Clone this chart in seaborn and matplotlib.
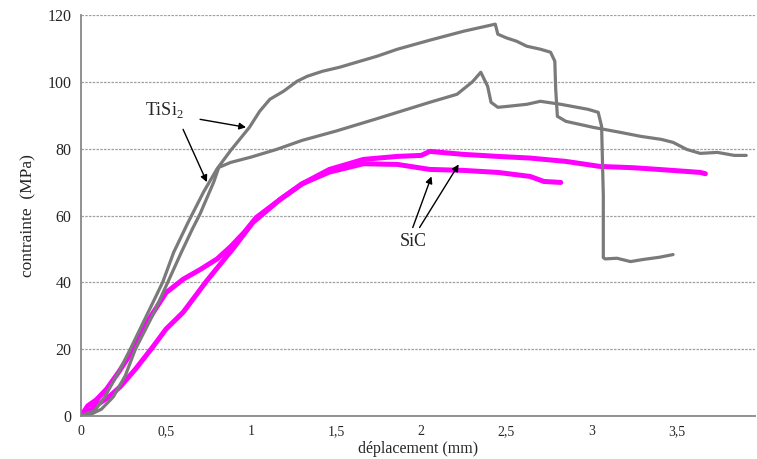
import pandas as pd
import matplotlib.pyplot as plt
import seaborn as sns
from matplotlib.ticker import FuncFormatter

sns.set_style("white")
plt.rcParams["font.family"] = ["Liberation Serif", "DejaVu Serif"]
plt.rcParams["mathtext.fontset"] = "custom"
plt.rcParams["mathtext.rm"] = "Liberation Serif"

# TiSi2 test 1 (upper curve, peak ~117 MPa)
tisi2_a_x = [0, 0.04, 0.08, 0.14, 0.22, 0.29, 0.39, 0.48, 0.545, 0.63, 0.72, 0.80, 0.88,
             0.99, 1.05, 1.11, 1.19, 1.27, 1.33, 1.42, 1.52, 1.74, 1.86, 2.05, 2.25,
             2.435, 2.45, 2.5, 2.56, 2.62, 2.7, 2.76, 2.785, 2.79, 2.80, 2.85, 3.01,
             3.17, 3.29, 3.41, 3.48, 3.56, 3.64, 3.74, 3.84, 3.91]
tisi2_a_y = [0, 0.8, 1.5, 5.7, 13, 20, 30.5, 40, 49, 58, 67, 74, 79.5,
             86.4, 91.2, 94.8, 97.2, 100.2, 101.7, 103.2, 104.4, 107.7, 109.8, 112.5, 115.2,
             117.3, 114.3, 113.2, 112.2, 110.7, 109.8, 108.9, 106.2, 98, 89.7, 88.2, 86.4,
             84.9, 83.7, 82.8, 81.9, 79.8, 78.6, 78.9, 78.0, 78.0]

# TiSi2 test 2 (lower curve, peak ~103 MPa, final drop to ~47 MPa)
tisi2_b_x = [0, 0.06, 0.12, 0.19, 0.26, 0.32, 0.42, 0.51, 0.59, 0.655, 0.70, 0.78, 0.81,
             0.88, 1.0, 1.15, 1.3, 1.5, 1.74, 2.05, 2.21, 2.30, 2.35, 2.39, 2.41,
             2.45, 2.51, 2.62, 2.70, 2.82, 2.98, 3.04, 3.06, 3.07, 3.07, 3.08, 3.15,
             3.23, 3.30, 3.40, 3.48]
tisi2_b_y = [0, 0.5, 2, 5.7, 12, 20, 30, 40, 49, 56, 60.5, 70, 74.4,
             75.9, 77.5, 79.8, 82.5, 85.3, 89, 93.9, 96.3, 100, 102.9, 98.7, 93.9,
             92.4, 92.7, 93.3, 94.2, 93.3, 91.8, 90.9, 86.7, 66, 47.4, 47, 47.2,
             46.2, 46.8, 47.5, 48.3]

# SiC test 1 (longer curve, ends ~3.67 mm)
sic_a_x = [0, 0.04, 0.09, 0.15, 0.22, 0.31, 0.4, 0.5, 0.6, 0.7, 0.8, 0.88, 0.96, 1.03,
           1.17, 1.3, 1.46, 1.66, 1.86, 2.0, 2.05, 2.25, 2.45, 2.64, 2.85, 3.05, 3.25,
           3.45, 3.64, 3.67]
sic_a_y = [0, 3, 4.8, 8, 13, 20, 29, 36.9, 40.9, 43.8, 47, 50.7, 55, 59.4,
           64.8, 69.5, 73.8, 76.8, 77.7, 78, 79.2, 78.3, 77.7, 77.2, 76.2, 74.7, 74.3,
           73.6, 72.9, 72.5]

# SiC test 2 (shorter curve, ends ~2.82 mm)
sic_b_x = [0, 0.05, 0.1, 0.16, 0.23, 0.32, 0.42, 0.5, 0.6, 0.74, 0.9, 1.01, 1.17, 1.3,
           1.46, 1.66, 1.86, 2.05, 2.25, 2.45, 2.64, 2.72, 2.82]
sic_b_y = [0, 1.5, 3.5, 5.5, 8.7, 14, 20.5, 26, 31, 40.5, 50.5, 57.9, 64.8, 69.5,
           73, 75.5, 75.3, 73.8, 73.5, 72.9, 71.7, 70.2, 69.9]

GRAY = "#7a7a7a"
MAGENTA = "#ff00ff"

fig, ax = plt.subplots(figsize=(7.57, 4.59), dpi=100)
fig.subplots_adjust(left=0.107, right=0.997, bottom=0.094, top=0.967)

for xs, ys in [(sic_a_x, sic_a_y), (sic_b_x, sic_b_y)]:
    sns.lineplot(x=xs, y=ys, sort=False, estimator=None, color=MAGENTA, lw=3.6, ax=ax)
for xs, ys in [(tisi2_a_x, tisi2_a_y), (tisi2_b_x, tisi2_b_y)]:
    sns.lineplot(x=xs, y=ys, sort=False, estimator=None, color=GRAY, lw=2.3, ax=ax)

ax.set_xlim(0, 3.96)
ax.set_ylim(0, 120)
ax.set_xticks([0, 0.5, 1, 1.5, 2, 2.5, 3, 3.5])
ax.set_yticks(range(0, 121, 20))
ax.xaxis.set_major_formatter(FuncFormatter(lambda v, p: f"{v:g}".replace(".", ",")))
ax.grid(axis="y", linestyle=(0, (2, 1)), color="#a0a0a0", lw=0.9)
ax.set_axisbelow(True)

for side in ["top", "right"]:
    ax.spines[side].set_visible(False)
for side in ["left", "bottom"]:
    ax.spines[side].set_color("#888888")
    ax.spines[side].set_linewidth(1.3)

ax.tick_params(axis="x", direction="inout", length=5, color="#888888", labelsize=10, pad=4)
ax.tick_params(axis="y", direction="out", length=4, color="#888888", labelsize=11.5, pad=3)

ax.set_xlabel("déplacement (mm)", fontsize=11.5, labelpad=2)
ax.set_ylabel("contrainte  (MPa)", fontsize=12.5, labelpad=8)

arrow = dict(arrowstyle="-|>", color="black", lw=1, mutation_scale=10, shrinkA=0, shrinkB=0)
ax.text(0.49, 91.5, r"TiSi$_\mathregular{2}$", fontsize=13, ha="center", va="center")
ax.annotate("", xy=(0.97, 86.4), xytext=(0.70, 88.8), arrowprops=arrow)
ax.annotate("", xy=(0.74, 70.0), xytext=(0.60, 85.8), arrowprops=arrow)

ax.text(1.95, 52.2, "SiC", fontsize=13, ha="center", va="center")
ax.annotate("", xy=(2.06, 71.7), xytext=(1.95, 56.4), arrowprops=arrow)
ax.annotate("", xy=(2.22, 75.3), xytext=(1.99, 56.4), arrowprops=arrow)

plt.savefig("out.png", dpi=100)
plt.close()
